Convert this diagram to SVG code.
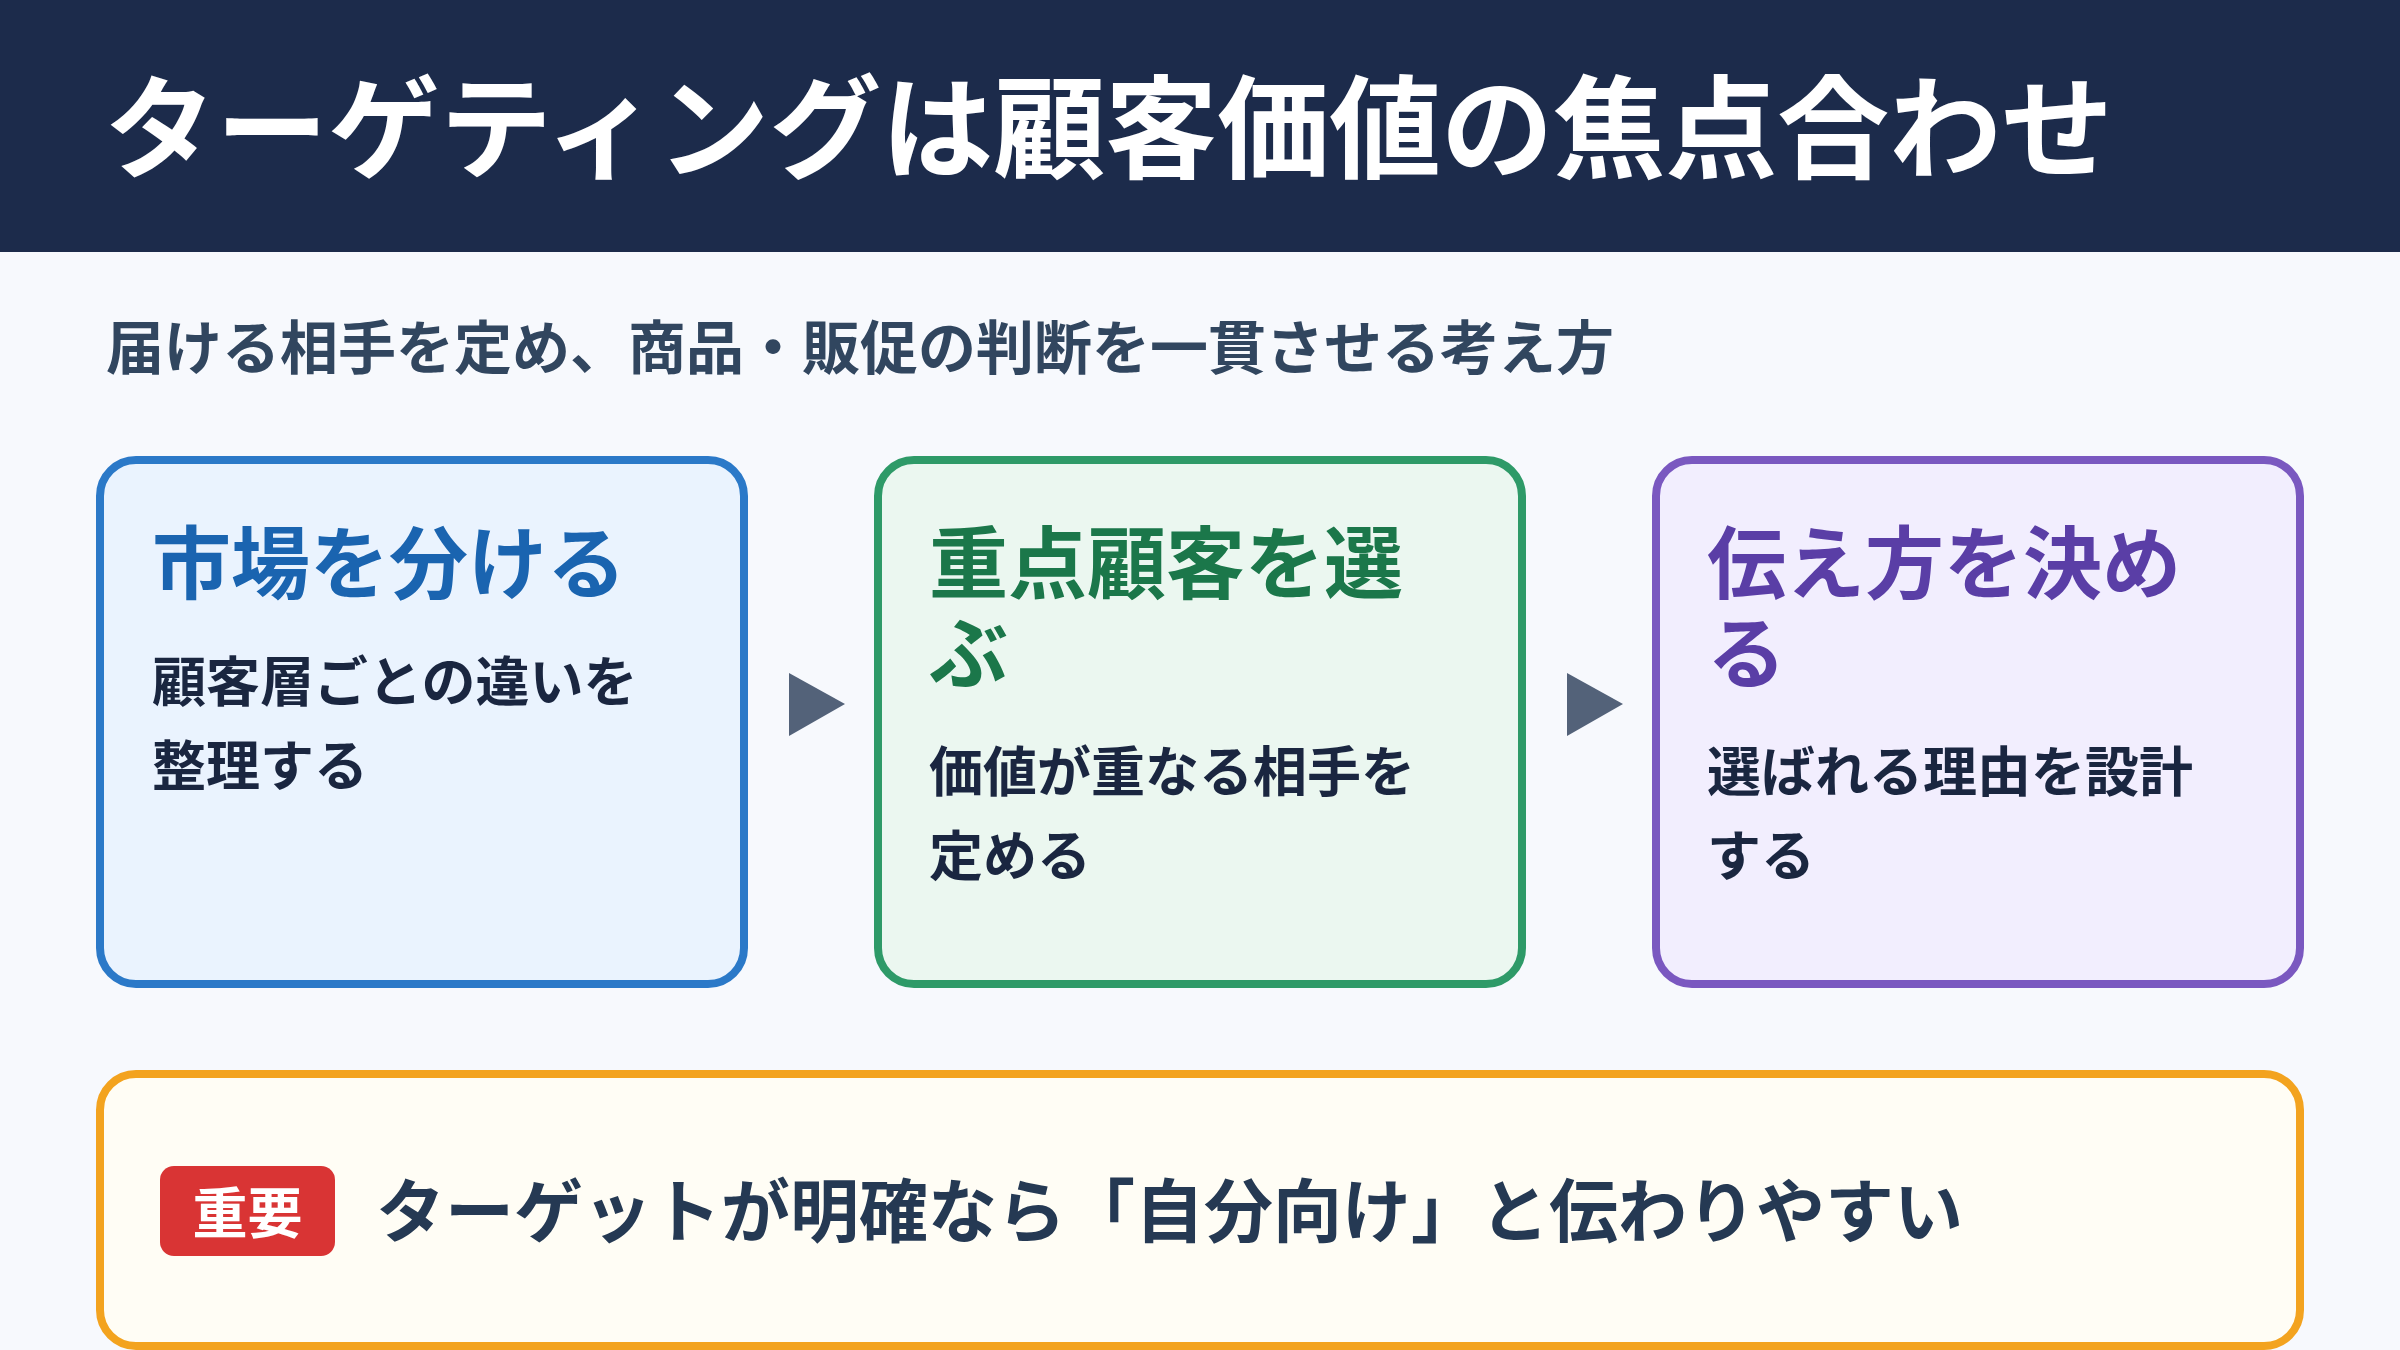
<svg xmlns="http://www.w3.org/2000/svg" width="2400" height="1350" viewBox="0 0 2400 1350">
  <style>
    text { font-family: "Noto Sans CJK JP", "Noto Sans CJK SC", sans-serif; font-weight: 700; }
    .title { font-size: 112px; fill: #ffffff; }
    .sub { font-size: 58px; fill: #31465f; }
    .card { stroke-width: 8; }
    .ctitle { font-size: 79px; }
    .body { font-size: 54px; fill: #1a2640; }
    .arrow { fill: #536279; }
  </style>
  <rect x="0" y="0" width="2400" height="1350" fill="#f7f9fd"/>
  <g id="header">
    <rect x="0" y="0" width="2400" height="252" fill="#1c2b4b"/>
    <text class="title" x="104" y="170">ターゲティングは顧客価値の焦点合わせ</text>
  </g>
  <g id="subtitle">
    <text class="sub" x="106" y="369">届ける相手を定め、商品・販促の判断を一貫させる考え方</text>
  </g>
  <g id="node-segment">
    <rect class="card" x="100" y="460" width="644" height="524" rx="36" fill="#eaf3fe" stroke="#2b79c8"/>
    <text class="ctitle" x="152" y="593" fill="#1a64b0">市場を分ける</text>
    <text class="body" x="152" y="702">顧客層ごとの違いを<tspan x="152" dy="84">整理する</tspan></text>
  </g>
  <g id="node-target">
    <rect class="card" x="878" y="460" width="644" height="524" rx="36" fill="#ebf7f0" stroke="#2e9a68"/>
    <text class="ctitle" x="929" y="593" fill="#1b774a">重点顧客を選<tspan x="929" dy="90">ぶ</tspan></text>
    <text class="body" x="929" y="792">価値が重なる相手を<tspan x="929" dy="84">定める</tspan></text>
  </g>
  <g id="node-position">
    <rect class="card" x="1656" y="460" width="644" height="524" rx="36" fill="#f2eefe" stroke="#7a58c0"/>
    <text class="ctitle" x="1707" y="593" fill="#5a3ea6">伝え方を決め<tspan x="1707" dy="90">る</tspan></text>
    <text class="body" x="1707" y="792">選ばれる理由を設計<tspan x="1707" dy="84">する</tspan></text>
  </g>
  <g id="connectors">
    <polygon class="arrow" points="789,673 845,704 789,736"/>
    <polygon class="arrow" points="1567,673 1623,704 1567,736"/>
  </g>
  <g id="note">
    <rect x="100" y="1074" width="2200" height="272" rx="36" fill="#fffdf5" stroke="#f3a31f" stroke-width="8"/>
    <rect x="160" y="1166" width="175" height="90" rx="14" fill="#d93434"/>
    <text x="247.5" y="1233" font-size="55" fill="#ffffff" text-anchor="middle">重要</text>
    <text x="376" y="1237" font-size="69" fill="#253953">ターゲットが明確なら「自分向け」と伝わりやすい</text>
  </g>
</svg>
